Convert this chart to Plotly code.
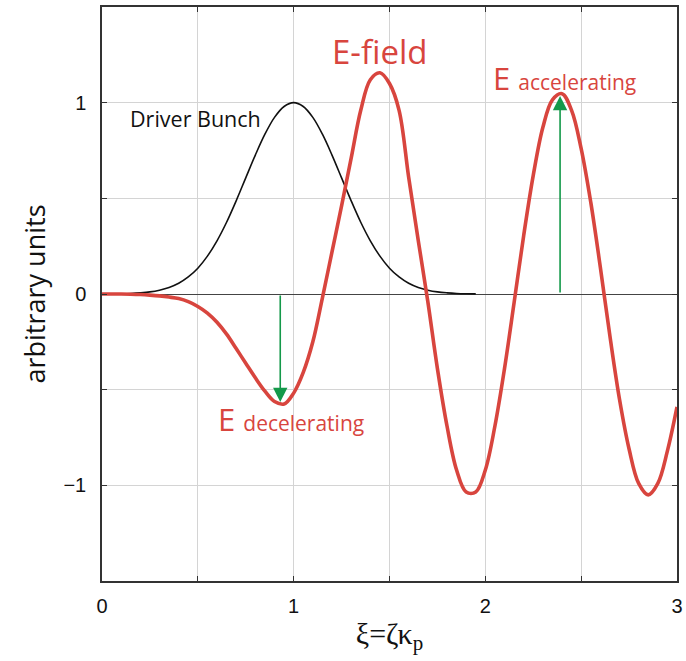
import plotly.graph_objects as go

# E-field (red)
efield_x = [0.00, 0.05, 0.10, 0.15, 0.20, 0.25, 0.30, 0.35, 0.40, 0.45, 0.50, 0.55, 0.60, 0.65,
            0.70, 0.75, 0.80, 0.85, 0.90, 0.95, 1.00, 1.05, 1.10, 1.15, 1.20, 1.25, 1.30, 1.35,
            1.40, 1.45, 1.50, 1.55, 1.60, 1.65, 1.70, 1.75, 1.80, 1.85, 1.90, 1.95, 2.00, 2.05,
            2.10, 2.15, 2.20, 2.25, 2.30, 2.35, 2.40, 2.45, 2.50, 2.55, 2.60, 2.65, 2.70, 2.75,
            2.80, 2.85, 2.90, 2.95, 3.00]
efield_y = [0.0, 0.0, 0.0, -0.001, -0.003, -0.006, -0.010, -0.016, -0.024, -0.040, -0.065, -0.100,
            -0.148, -0.210, -0.285, -0.362, -0.438, -0.508, -0.562, -0.575, -0.518, -0.410, -0.250,
            -0.020, 0.22, 0.46, 0.71, 0.96, 1.12, 1.156, 1.10, 0.96, 0.61, 0.28, -0.04, -0.39,
            -0.69, -0.92, -1.035, -1.035, -0.92, -0.69, -0.39, -0.046, 0.305, 0.62, 0.87, 1.015,
            1.047, 0.96, 0.76, 0.48, 0.14, -0.22, -0.55, -0.81, -0.99, -1.05, -0.99, -0.82, -0.59]

# Driver bunch (black)
bunch_x = [0.10, 0.15, 0.20, 0.25, 0.30, 0.35, 0.40, 0.45, 0.50, 0.55, 0.60, 0.65, 0.70, 0.75,
           0.80, 0.85, 0.90, 0.95, 1.00, 1.05, 1.10, 1.15, 1.20, 1.25, 1.30, 1.35, 1.40, 1.45,
           1.50, 1.55, 1.60, 1.65, 1.70, 1.75, 1.80, 1.85, 1.90, 1.95]
bunch_y = [0.0015, 0.003, 0.006, 0.011, 0.020, 0.034, 0.056, 0.089, 0.135, 0.198, 0.278, 0.375,
           0.487, 0.607, 0.726, 0.835, 0.923, 0.980, 1.0, 0.980, 0.923, 0.835, 0.726, 0.607,
           0.487, 0.375, 0.278, 0.198, 0.135, 0.089, 0.056, 0.034, 0.020, 0.011, 0.006, 0.003,
           0.0015, 0.0008]

# arrows: (x, start y, end y)
arrow_decel = (0.93, 0.0, -0.565)
arrow_accel = (2.39, 0.0, 1.035)

x_tickvals = [0, 0.5, 1, 1.5, 2, 2.5, 3]
x_ticktext = ["0", " ", "1", " ", "2", " ", "3"]
y_tickvals = [-1, -0.5, 0, 0.5, 1]
y_ticktext = ["\u22121", " ", "0", " ", "1"]

RED = "#d8453e"
GREEN = "#14994a"
SANS = "Open Sans, Lato, sans-serif"

fig = go.Figure()
fig.add_trace(go.Scatter(x=bunch_x, y=bunch_y, mode="lines",
                         line=dict(color="#111111", width=1.6, shape="spline"),
                         hoverinfo="skip", showlegend=False))
fig.add_trace(go.Scatter(x=efield_x, y=efield_y, mode="lines",
                         line=dict(color=RED, width=3.6, shape="spline"),
                         hoverinfo="skip", showlegend=False))

for (ax_, y0, y1) in (arrow_decel, arrow_accel):
    fig.add_annotation(x=ax_, y=y1, ax=ax_, ay=y0, xref="x", yref="y", axref="x", ayref="y",
                       showarrow=True, arrowhead=2, arrowsize=1.8, arrowwidth=1.6,
                       arrowcolor=GREEN, text="")

fig.add_annotation(x=0.49, y=0.915, xref="x", yref="y", text="Driver Bunch", showarrow=False,
                   font=dict(family=SANS, size=21.5, color="#111111"))
fig.add_annotation(x=1.45, y=1.27, xref="x", yref="y", text="E-field", showarrow=False,
                   font=dict(family=SANS, size=33, color=RED))
fig.add_annotation(x=2.415, y=1.13, xref="x", yref="y",
                   text="E <span style='font-size:21px'>accelerating</span>", showarrow=False,
                   font=dict(family=SANS, size=31, color=RED))
fig.add_annotation(x=0.985, y=-0.655, xref="x", yref="y",
                   text="E <span style='font-size:21px'>decelerating</span>", showarrow=False,
                   font=dict(family=SANS, size=31, color=RED))

axis_common = dict(showgrid=True, gridcolor="#d4d4d4", gridwidth=1, automargin=False,
                   showline=True, linecolor="#333333", linewidth=1.5, mirror="ticks",
                   ticks="inside", ticklen=5, tickcolor="#333333", tickwidth=1,
                   ticklabeloverflow="allow",
                   tickfont=dict(family="Liberation Sans, Arial, sans-serif", size=20, color="#111111"))

fig.update_xaxes(range=[0, 3], tickvals=x_tickvals, ticktext=x_ticktext, zeroline=False,
                 ticklabelstandoff=6,
                 title=dict(text="\u03be=\u03b6\u03ba<sub>p</sub>", standoff=2,
                            font=dict(family="Liberation Serif, Times New Roman, serif", size=30,
                                      color="#111111")),
                 **axis_common)
fig.update_yaxes(range=[-1.5, 1.5], tickvals=y_tickvals, ticktext=y_ticktext,
                 zeroline=True, zerolinecolor="#444444", zerolinewidth=1.2,
                 ticklabelstandoff=10,
                 title=dict(text="arbitrary units", standoff=10,
                            font=dict(family=SANS, size=27, color="#111111")),
                 **axis_common)

fig.update_layout(width=686, height=661, margin=dict(l=102, r=9, t=7, b=80),
                  plot_bgcolor="white", paper_bgcolor="white", showlegend=False)

# remove the default 8px page margin so the figure fills the window exactly
fig.write_html("out.html", config={"displayModeBar": False},
               post_script="document.body.style.margin='0';document.body.style.overflow='hidden';")
